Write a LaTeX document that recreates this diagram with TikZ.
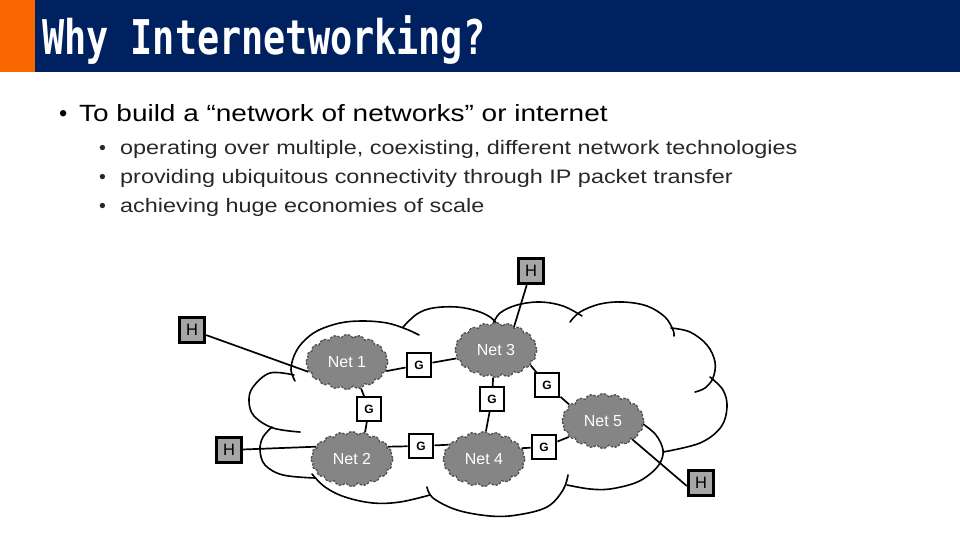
\documentclass[tikz,border=0pt]{standalone}
\usepackage{fontspec}
\usepackage{graphicx}
\setmainfont{Liberation Sans}
\newfontfamily\titlefont{DejaVu Sans Mono}
\usetikzlibrary{shapes.symbols}
\definecolor{hdrblue}{RGB}{0,33,96}
\definecolor{hdrorange}{RGB}{250,102,0}
\definecolor{netfill}{RGB}{133,133,133}
\definecolor{netedge}{RGB}{80,80,80}
\definecolor{hostfill}{RGB}{166,166,166}
\definecolor{subtext}{RGB}{40,40,40}
\begin{document}
\begin{tikzpicture}[x=1pt,y=-1pt,
  netcloud/.style={cloud, cloud puffs=20, cloud puff arc=120, aspect=1.45,
    fill=netfill, draw=netedge, dashed, dash pattern=on 2.5pt off 1.5pt, line width=1.3pt,
    minimum width=82pt, minimum height=55pt, inner sep=0pt, text=white,
    font=\fontsize{16}{18}\selectfont},
  gbox/.style={draw=black, fill=white, line width=2.4pt, minimum width=24.5pt,
    minimum height=23.5pt, inner sep=0pt, font=\fontsize{12}{13}\selectfont\bfseries},
  hbox/.style={draw=black, fill=hostfill, line width=2.8pt, minimum size=25.5pt,
    inner sep=0pt, font=\fontsize{16.5}{17}\selectfont},
  link/.style={line width=1.7pt},
  outline/.style={line width=1.6pt, line cap=round},
  txt/.style={anchor=base west, inner sep=0pt}
]
\useasboundingbox (0,0) rectangle (960,540);
\fill[white] (0,0) rectangle (960,540);
% header
\fill[hdrorange] (0,0) rectangle (35,72);
\fill[hdrblue] (35,0) rectangle (960,72);
\node[txt, text=white] (title) at (42,55)
  {\scalebox{1}[1.3]{\titlefont\bfseries\fontsize{36.8}{40}\selectfont Why Internetworking?}};
% bullets
\node[txt] (b0) at (59,122) {\fontsize{23.5}{28}\selectfont •};
\node[txt] (t0) at (79,122) {\scalebox{1.19}[1]{\fontsize{23.5}{28}\selectfont To build a “network of networks” or internet}};
\node[txt, text=subtext] (b1) at (99,155) {\fontsize{19.5}{22}\selectfont •};
\node[txt, text=subtext] (t1) at (120,155) {\scalebox{1.2}[1]{\fontsize{19.5}{22}\selectfont operating over multiple, coexisting, different network technologies}};
\node[txt, text=subtext] (b2) at (99,183.5) {\fontsize{19.5}{22}\selectfont •};
\node[txt, text=subtext] (t2) at (120,183.5) {\scalebox{1.2}[1]{\fontsize{19.5}{22}\selectfont providing ubiquitous connectivity through IP packet transfer}};
\node[txt, text=subtext] (b3) at (99,212) {\fontsize{19.5}{22}\selectfont •};
\node[txt, text=subtext] (t3) at (120,212) {\scalebox{1.2}[1]{\fontsize{19.5}{22}\selectfont achieving huge economies of scale}};
% big internet cloud outline
\draw[outline] plot[smooth, tension=0.6] coordinates {(295,381) (291,370) (294,356) (302,343) (317,331) (340,323) (363,321) (387,323) (406,329) (419,335)};
\draw[outline] plot[smooth, tension=0.6] coordinates {(403,327) (417,314) (433,308) (457,307) (477,311) (490,317) (497,324)};
\draw[outline] plot[smooth, tension=0.6] coordinates {(493,324) (500,313) (517,305) (540,302) (563,306) (582,316)};
\draw[outline] plot[smooth, tension=0.6] coordinates {(570,322) (580,312) (600,304) (623,302) (647,306) (665,317) (673,330) (674,336)};
\draw[outline] plot[smooth, tension=0.6] coordinates {(671,328) (690,332) (707,345) (715,362) (713,378) (705,388) (695,392)};
\draw[outline] plot[smooth, tension=0.6] coordinates {(710,377) (723,390) (727,407) (721,427) (700,443) (663,452)};
\draw[outline] plot[smooth, tension=0.6] coordinates {(643,424) (656,435) (663,450) (660,463) (650,474) (635,483) (610,489) (590,489) (567,485)};
\draw[outline] plot[smooth, tension=0.6] coordinates {(568,475) (563,490) (547,507) (517,515) (490,516) (457,510) (433,498) (427,487)};
\draw[outline] plot[smooth, tension=0.6] coordinates {(430,495) (400,502) (373,503) (345,497) (325,487) (312,474)};
\draw[outline] plot[smooth, tension=0.6] coordinates {(272,427) (263,437) (260,450) (265,465) (283,475) (315,478)};
\draw[outline] plot[smooth, tension=0.6] coordinates {(294,375) (270,373) (253,387) (249,401) (254,416) (273,428) (300,432)};
% networks
\node[netcloud] (N1) at (347,362) {Net 1};
\node[netcloud] (N3) at (496,350) {Net 3};
\node[netcloud] (N2) at (352,459) {Net 2};
\node[netcloud] (N4) at (484,459) {Net 4};
\node[netcloud] (N5) at (603,421) {Net 5};
% gateways
\node[gbox] (G13) at (419,365) {G};
\node[gbox] (G35) at (547,385) {G};
\node[gbox] (G34) at (492,399) {G};
\node[gbox] (G12) at (369,409) {G};
\node[gbox] (G24) at (421,446) {G};
\node[gbox] (G45) at (544,447) {G};
% hosts
\node[hbox] (HT) at (531,271) {H};
\node[hbox] (H1) at (192,330) {H};
\node[hbox] (H2) at (229,450) {H};
\node[hbox] (HB) at (701,483) {H};
% links
\draw[link] (H1) -- (N1.194);
\draw[link] (HT) -- (N3.52);
\draw[link] (N1.347) -- (G13);
\draw[link] (G13) -- (N3.192);
\draw[link] (N1.298) -- (G12);
\draw[link] (G12) -- (N2.64);
\draw[link] (N3.264) -- (G34);
\draw[link] (G34) -- (N4.86);
\draw[link] (N3.336) -- (G35);
\draw[link] (G35) -- (N5.154);
\draw[link] (H2) -- (N2.161);
\draw[link] (N2.19) -- (G24);
\draw[link] (G24) -- (N4.158);
\draw[link] (N4.16) -- (G45);
\draw[link] (G45) -- (N5.205);
\draw[link] (N5.328) -- ([yshift=-3pt]HB.west);
\end{tikzpicture}
\end{document}
